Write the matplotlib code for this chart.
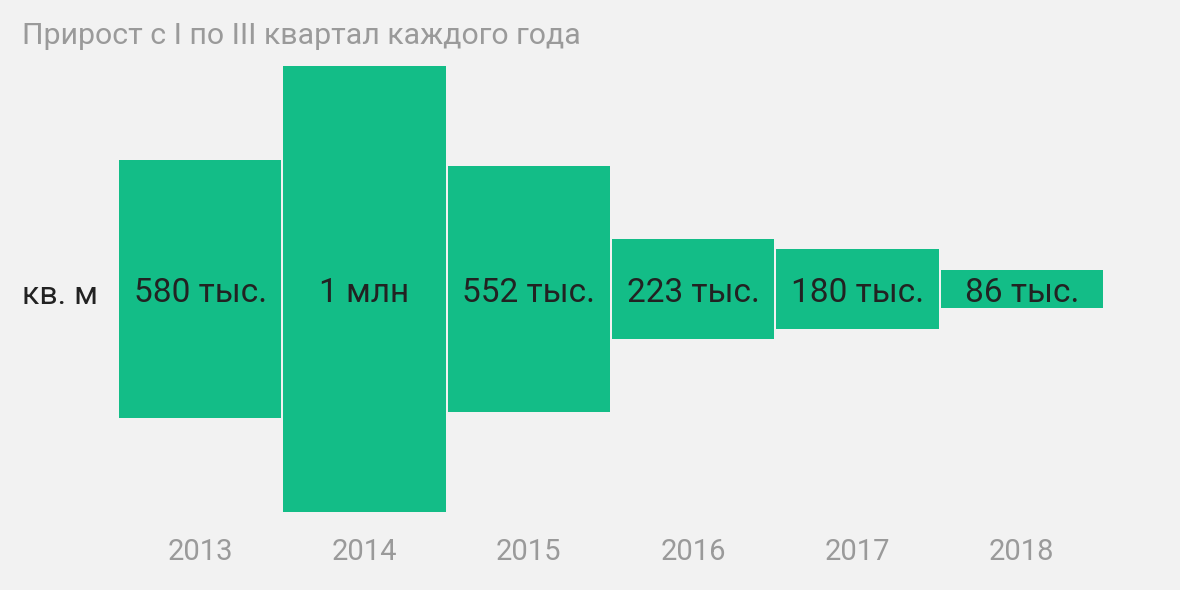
import matplotlib
matplotlib.use("Agg")
import matplotlib.pyplot as plt
import matplotlib.transforms as mtransforms

# data
years = ["2013", "2014", "2015", "2016", "2017", "2018"]
values = [580, 1000, 552, 223, 180, 86]          # тыс. кв. м
value_labels = ["580 тыс.", "1 млн", "552 тыс.", "223 тыс.", "180 тыс.", "86 тыс."]
title = "Прирост с I по III квартал каждого года"
unit = "кв. м"

bg = "#f2f2f2"
green = "#13bd87"
gray = "#9a9a9a"
dark = "#222222"

plt.rcParams["font.family"] = ["Roboto", "DejaVu Sans"]

fig = plt.figure(figsize=(11.8, 5.9), dpi=100, facecolor=bg)
W, H = 1180, 590
# axes spans bar area: x 118..1104 px, centred at y=289 px from top
ymax = 520
ax_h = 446 * (2 * ymax / 1000)
ax = fig.add_axes([118 / W, (H - 289 - ax_h / 2) / H, (1104 - 118) / W, ax_h / H])
ax.set_facecolor(bg)

x = list(range(len(years)))
half = [v / 2 for v in values]
ax.bar(x, values, bottom=[-h for h in half], width=0.988, color=green, linewidth=0)

# nudge value labels a few pixels down, as in the reference
shift = mtransforms.offset_copy(ax.transData, fig=fig, x=0, y=-3, units="points")
for i, lab in enumerate(value_labels):
    ax.text(i, 0, lab, transform=shift, ha="center", va="center",
            fontsize=24, color=dark)

ax.set_xlim(-0.5, len(years) - 0.5)
ax.set_ylim(-ymax, ymax)
ax.axis("off")

# year labels under the bars
trans = mtransforms.blended_transform_factory(ax.transData, fig.transFigure)
for i, y in enumerate(years):
    ax.text(i, (H - 552) / H, y, transform=trans, ha="center", va="center",
            fontsize=21, color=gray)

fig.text(22 / W, (H - 36) / H, title, ha="left", va="center", fontsize=21.8,
         color=gray)
fig.text(22 / W, (H - 295) / H, unit, ha="left", va="center", fontsize=23, color=dark)

fig.savefig("out.png", dpi=100, facecolor=bg)
